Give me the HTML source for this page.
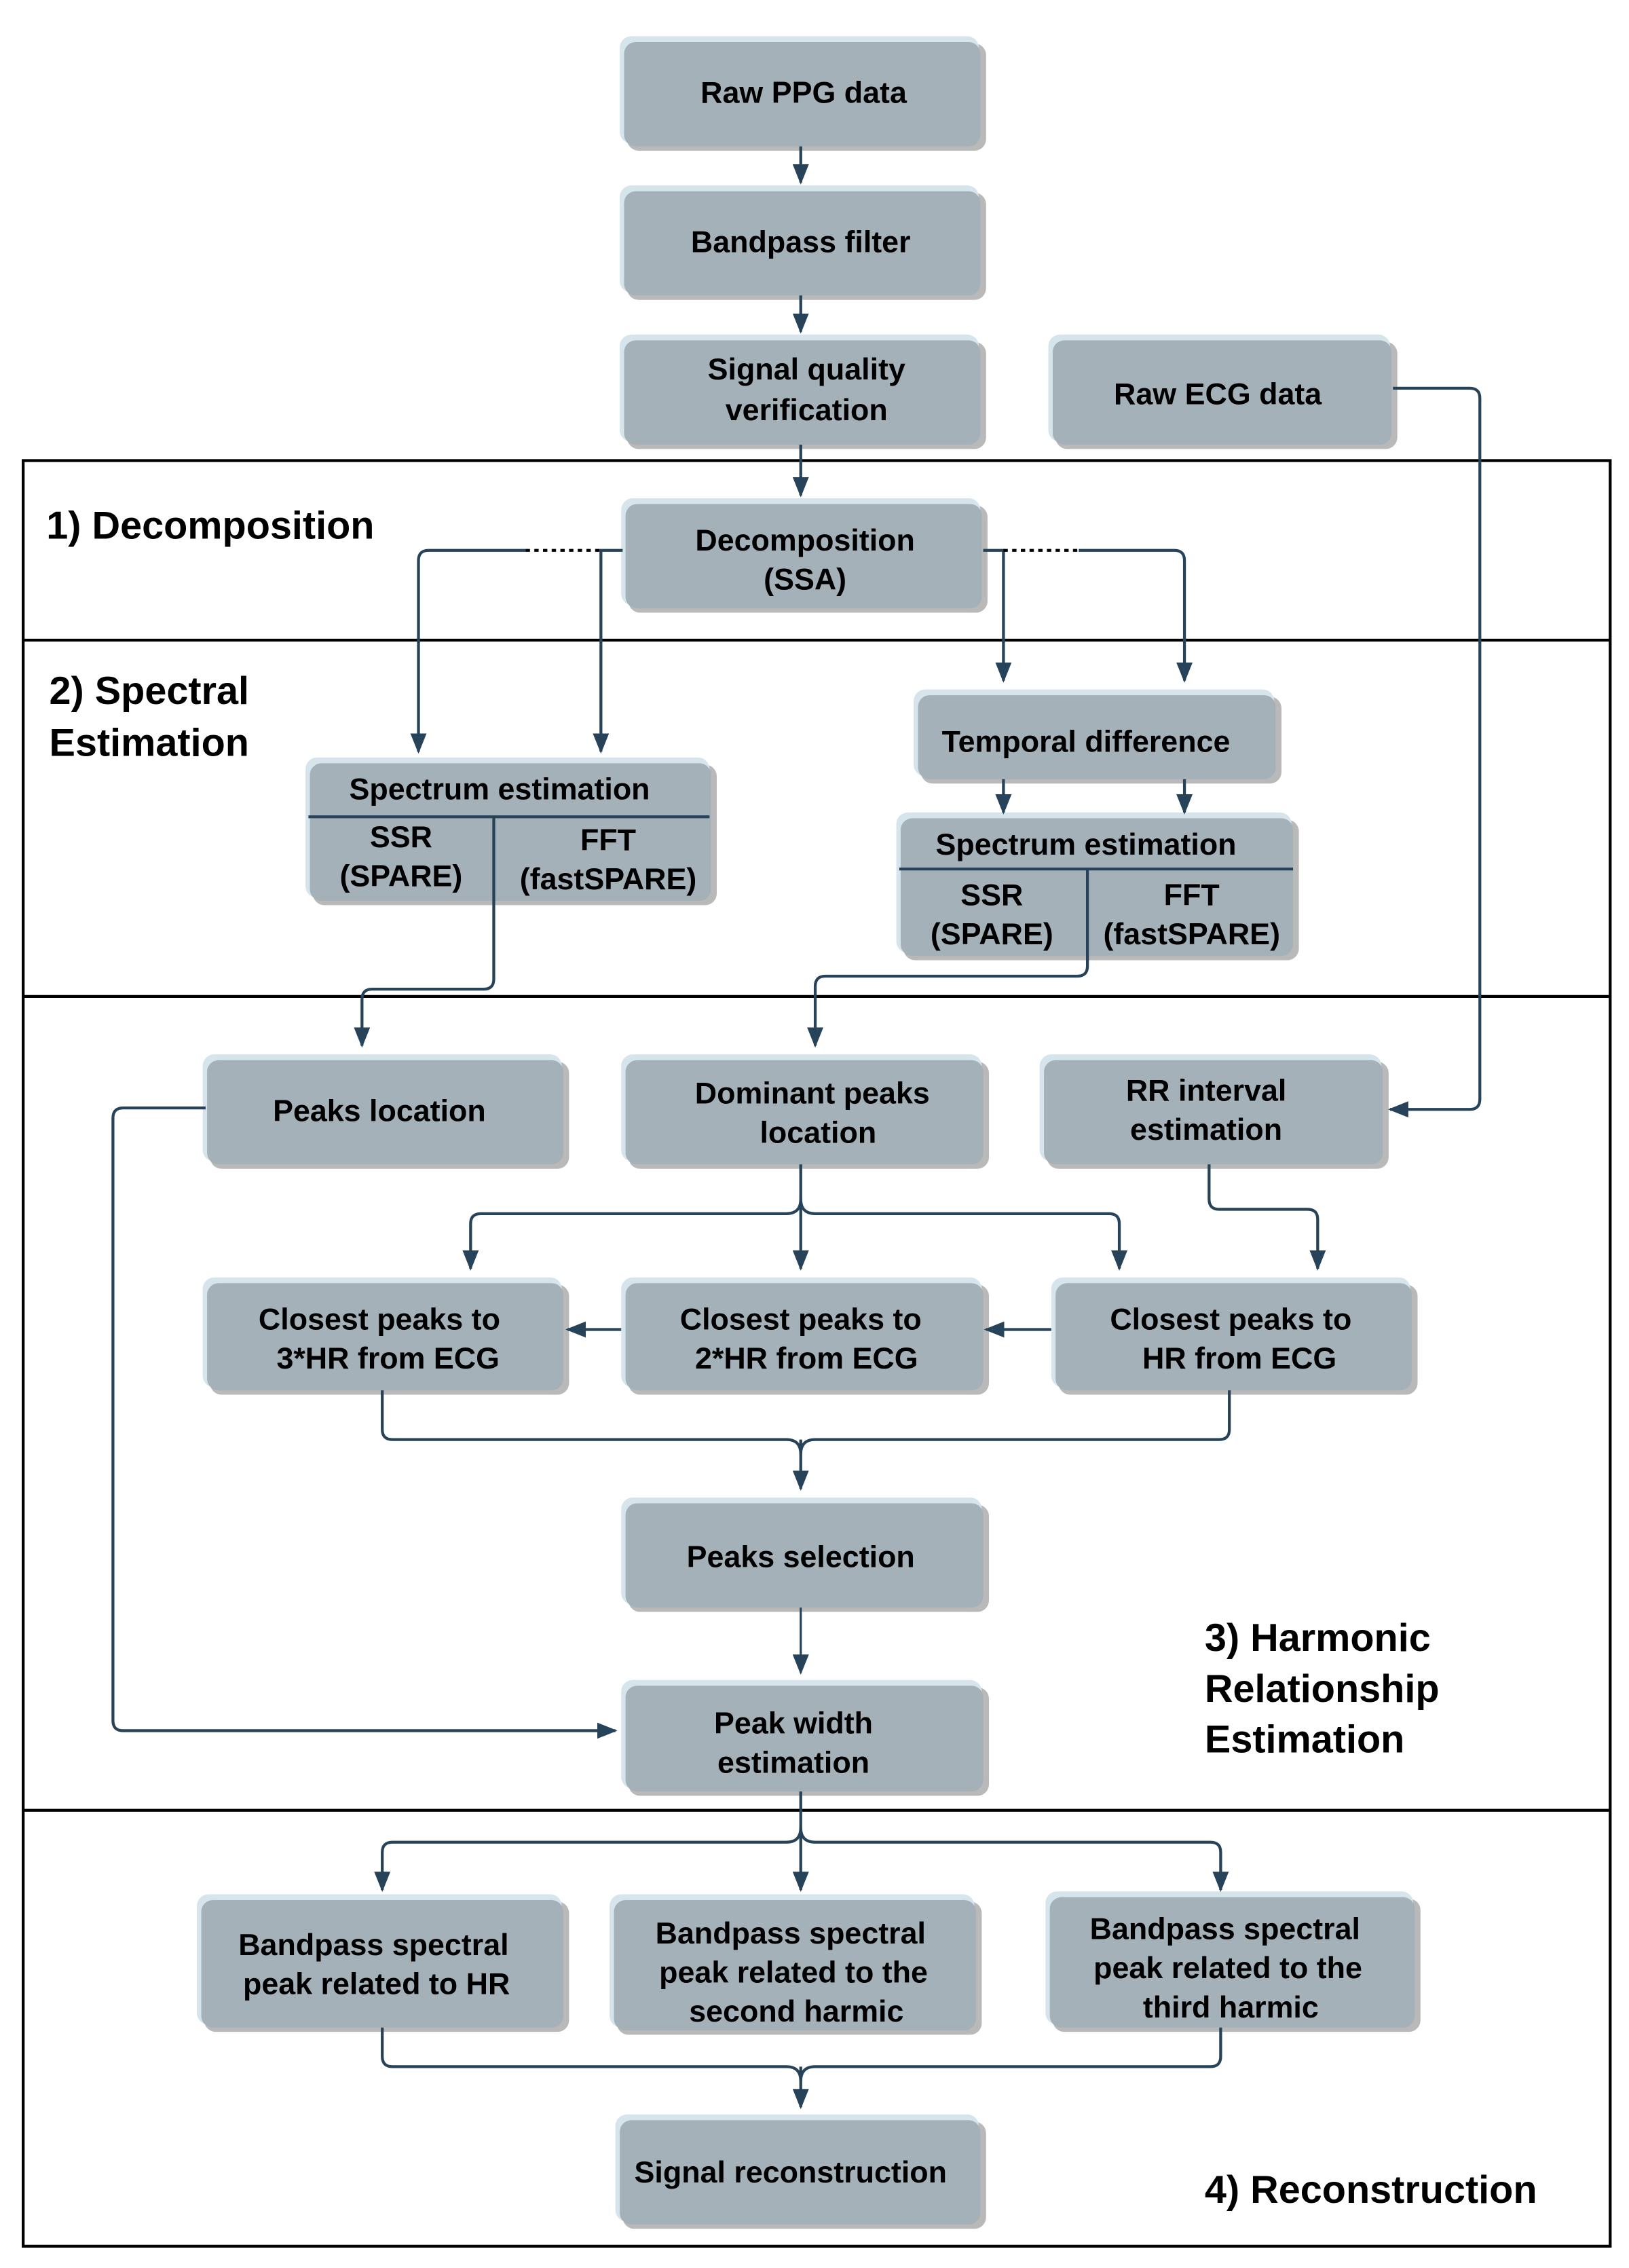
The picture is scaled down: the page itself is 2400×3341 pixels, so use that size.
<!DOCTYPE html>
<html><head><meta charset="utf-8"><style>
html,body{margin:0;padding:0;background:#fff}
svg{display:block}
text{font-family:"Liberation Sans",Arial,sans-serif;font-weight:bold;fill:#000}
.b{font-size:21px;text-anchor:middle}
.t{font-size:27px}
</style></head><body>
<svg width="2400" height="3341" viewBox="0 0 1125 1566" xmlns="http://www.w3.org/2000/svg">
<defs>
<marker id="a" viewBox="0 0 10 10" refX="9" refY="5" markerWidth="5.5" markerHeight="5.5" orient="auto" markerUnits="userSpaceOnUse">
<path d="M0,0 L10,5 L0,10 z" fill="#27435a"/></marker>
<marker id="ar" viewBox="0 0 10 10" refX="9" refY="5" markerWidth="14" markerHeight="14" orient="auto" markerUnits="userSpaceOnUse">
<path d="M0,1 L10,5 L0,9 z" fill="#27435a"/></marker>
</defs>
<g id="boxes">
<g fill="#b9b9b9">
<rect x="433" y="30" width="248" height="74" rx="8"/>
<rect x="433" y="133" width="248" height="74" rx="8"/>
<rect x="433" y="236" width="248" height="74" rx="8"/>
<rect x="729" y="236" width="236" height="74" rx="8"/>
<rect x="434" y="349" width="248" height="74" rx="8"/>
<rect x="636" y="481" width="249" height="60" rx="8"/>
<rect x="216" y="528" width="279" height="97" rx="8"/>
<rect x="624" y="566" width="273" height="97" rx="8"/>
<rect x="145" y="733" width="248" height="74" rx="8"/>
<rect x="434" y="733" width="249" height="74" rx="8"/>
<rect x="723" y="733" width="236" height="74" rx="8"/>
<rect x="145" y="887" width="248" height="76" rx="8"/>
<rect x="434" y="887" width="249" height="76" rx="8"/>
<rect x="731" y="887" width="248" height="76" rx="8"/>
<rect x="434" y="1039" width="249" height="74" rx="8"/>
<rect x="434" y="1165" width="249" height="75" rx="8"/>
<rect x="141" y="1313" width="252" height="90" rx="8"/>
<rect x="426" y="1313" width="252" height="92" rx="8"/>
<rect x="727" y="1311" width="254" height="92" rx="8"/>
<rect x="430" y="1465" width="251" height="74" rx="8"/>
</g>
<g fill="#d6e4ec">
<rect x="428" y="25" width="248" height="74" rx="8"/>
<rect x="428" y="128" width="248" height="74" rx="8"/>
<rect x="428" y="231" width="248" height="74" rx="8"/>
<rect x="724" y="231" width="236" height="74" rx="8"/>
<rect x="429" y="344" width="248" height="74" rx="8"/>
<rect x="631" y="476" width="249" height="60" rx="8"/>
<rect x="211" y="523" width="279" height="97" rx="8"/>
<rect x="619" y="561" width="273" height="97" rx="8"/>
<rect x="140" y="728" width="248" height="74" rx="8"/>
<rect x="429" y="728" width="249" height="74" rx="8"/>
<rect x="718" y="728" width="236" height="74" rx="8"/>
<rect x="140" y="882" width="248" height="76" rx="8"/>
<rect x="429" y="882" width="249" height="76" rx="8"/>
<rect x="726" y="882" width="248" height="76" rx="8"/>
<rect x="429" y="1034" width="249" height="74" rx="8"/>
<rect x="429" y="1160" width="249" height="75" rx="8"/>
<rect x="136" y="1308" width="252" height="90" rx="8"/>
<rect x="421" y="1308" width="252" height="92" rx="8"/>
<rect x="722" y="1306" width="254" height="92" rx="8"/>
<rect x="425" y="1460" width="251" height="74" rx="8"/>
</g>
<g fill="#a4b1b8">
<rect x="431" y="29" width="246" height="72" rx="8"/>
<rect x="431" y="132" width="246" height="72" rx="8"/>
<rect x="431" y="235" width="246" height="72" rx="8"/>
<rect x="727" y="235" width="234" height="72" rx="8"/>
<rect x="432" y="348" width="246" height="72" rx="8"/>
<rect x="634" y="480" width="247" height="58" rx="8"/>
<rect x="214" y="527" width="277" height="95" rx="8"/>
<rect x="622" y="565" width="271" height="95" rx="8"/>
<rect x="143" y="732" width="246" height="72" rx="8"/>
<rect x="432" y="732" width="247" height="72" rx="8"/>
<rect x="721" y="732" width="234" height="72" rx="8"/>
<rect x="143" y="886" width="246" height="74" rx="8"/>
<rect x="432" y="886" width="247" height="74" rx="8"/>
<rect x="729" y="886" width="246" height="74" rx="8"/>
<rect x="432" y="1038" width="247" height="72" rx="8"/>
<rect x="432" y="1164" width="247" height="73" rx="8"/>
<rect x="139" y="1312" width="250" height="88" rx="8"/>
<rect x="424" y="1312" width="250" height="90" rx="8"/>
<rect x="725" y="1310" width="252" height="90" rx="8"/>
<rect x="428" y="1464" width="249" height="72" rx="8"/>
</g>
</g>
<!-- frame -->
<g fill="none" stroke="#000" stroke-width="2">
<rect x="16" y="318" width="1096" height="1233"/>
<line x1="16" y1="442" x2="1112" y2="442"/>
<line x1="16" y1="688" x2="1112" y2="688"/>
<line x1="16" y1="1250" x2="1112" y2="1250"/>
</g>
<g fill="none" stroke="#27435a" stroke-width="2">
<line x1="213" y1="564" x2="490" y2="564"/>
<line x1="621" y1="600" x2="893" y2="600"/>
<line x1="553" y1="101" x2="553" y2="126" marker-end="url(#ar)"/>
<line x1="553" y1="204" x2="553" y2="229" marker-end="url(#ar)"/>
<line x1="553" y1="307" x2="553" y2="342" marker-end="url(#ar)"/>
<path d="M430,380 H415 V519" marker-end="url(#ar)"/>
<path d="M363,380 H296 Q289,380 289,387 V519" marker-end="url(#ar)"/>
<path d="M679,380 H693 V470" marker-end="url(#ar)"/>
<path d="M745,380 H811 Q818,380 818,387 V470" marker-end="url(#ar)"/>
<line x1="693" y1="538" x2="693" y2="561" marker-end="url(#ar)"/>
<line x1="818" y1="538" x2="818" y2="561" marker-end="url(#ar)"/>
<path d="M341,564 V676 Q341,683 334,683 H257 Q250,683 250,690 V722" marker-end="url(#ar)"/>
<path d="M751,600 V667 Q751,674 744,674 H570 Q563,674 563,681 V722" marker-end="url(#ar)"/>
<path d="M962,268 H1015 Q1022,268 1022,275 V759 Q1022,766 1015,766 H960" marker-end="url(#ar)"/>
<path d="M142,765 H85 Q78,765 78,772 V1188 Q78,1195 85,1195 H425" marker-end="url(#ar)"/>
<path d="M835,804 V828 Q835,835 842,835 H903 Q910,835 910,842 V876" marker-end="url(#ar)"/>
<line x1="553" y1="804" x2="553" y2="876" marker-end="url(#ar)"/>
<path d="M553,828 Q553,838 543,838 H332 Q325,838 325,845 V876" marker-end="url(#ar)"/>
<path d="M553,828 Q553,838 563,838 H766 Q773,838 773,845 V876" marker-end="url(#ar)"/>
<line x1="726" y1="918" x2="681" y2="918" marker-end="url(#ar)"/>
<line x1="429" y1="918" x2="392" y2="918" marker-end="url(#ar)"/>
<path d="M264,960 V987 Q264,994 271,994 H543 Q553,994 553,1004"/>
<path d="M849,960 V987 Q849,994 842,994 H563 Q553,994 553,1004"/>
<line x1="553" y1="994" x2="553" y2="1028" marker-end="url(#ar)"/>
<line x1="553" y1="1110" x2="553" y2="1155" stroke-width="1.5" marker-end="url(#ar)"/>
<line x1="553" y1="1237" x2="553" y2="1305" marker-end="url(#ar)"/>
<path d="M553,1262 Q553,1272 543,1272 H271 Q264,1272 264,1279 V1305" marker-end="url(#ar)"/>
<path d="M553,1262 Q553,1272 563,1272 H836 Q843,1272 843,1279 V1305" marker-end="url(#ar)"/>
<path d="M264,1400 V1420 Q264,1427 271,1427 H543 Q553,1427 553,1437"/>
<path d="M843,1400 V1420 Q843,1427 836,1427 H563 Q553,1427 553,1437"/>
<line x1="553" y1="1427" x2="553" y2="1455" marker-end="url(#ar)"/>
</g>
<g stroke="#000" stroke-width="2" stroke-dasharray="3,3">
<line x1="363" y1="380" x2="415" y2="380"/>
<line x1="693" y1="380" x2="745" y2="380"/>
</g>
<g class="b">
<text x="555" y="71" class="b">Raw PPG data</text>
<text x="553" y="174" class="b">Bandpass  filter</text>
<text x="557" y="262" class="b">Signal quality</text>
<text x="557" y="290" class="b">verification</text>
<text x="841" y="279" class="b">Raw ECG data</text>
<text x="556" y="380" class="b">Decomposition</text>
<text x="556" y="407" class="b">(SSA)</text>
<text x="750" y="519" class="b">Temporal difference</text>
<text x="345" y="552" class="b">Spectrum  estimation</text>
<text x="277" y="585" class="b">SSR</text>
<text x="277" y="612" class="b">(SPARE)</text>
<text x="420" y="587" class="b">FFT</text>
<text x="420" y="614" class="b">(fastSPARE)</text>
<text x="750" y="590" class="b">Spectrum  estimation</text>
<text x="685" y="625" class="b">SSR</text>
<text x="685" y="652" class="b">(SPARE)</text>
<text x="823" y="625" class="b">FFT</text>
<text x="823" y="652" class="b">(fastSPARE)</text>
<text x="262" y="774" class="b">Peaks location</text>
<text x="561" y="762" class="b">Dominant  peaks</text>
<text x="565" y="789" class="b">location</text>
<text x="833" y="760" class="b">RR interval</text>
<text x="833" y="787" class="b">estimation</text>
<text x="262" y="918" class="b">Closest peaks   to</text>
<text x="268" y="945" class="b">3*HR from ECG</text>
<text x="553" y="918" class="b">Closest peaks   to</text>
<text x="557" y="945" class="b">2*HR from ECG</text>
<text x="850" y="918" class="b">Closest peaks    to</text>
<text x="856" y="945" class="b">HR from ECG</text>
<text x="553" y="1082" class="b">Peaks selection</text>
<text x="548" y="1197" class="b">Peak width</text>
<text x="548" y="1224" class="b">estimation</text>
<text x="258" y="1350" class="b">Bandpass spectral</text>
<text x="260" y="1377" class="b">peak   related to HR</text>
<text x="546" y="1342" class="b">Bandpass spectral</text>
<text x="548" y="1369" class="b">peak  related to the</text>
<text x="550" y="1396" class="b">second harmic</text>
<text x="846" y="1339" class="b">Bandpass spectral</text>
<text x="848" y="1366" class="b">peak   related to the</text>
<text x="850" y="1393" class="b">third harmic</text>
<text x="546" y="1507" class="b">Signal reconstruction</text>
</g>
<text x="32" y="372" class="t">1)  Decomposition</text>
<text x="34" y="486" class="t">2)  Spectral</text>
<text x="34" y="522" class="t">Estimation</text>
<text x="832" y="1140" class="t">3)  Harmonic</text>
<text x="832" y="1175" class="t">Relationship</text>
<text x="832" y="1210" class="t">Estimation</text>
<text x="832" y="1521" class="t">4)  Reconstruction</text>
</svg>
</body></html>
